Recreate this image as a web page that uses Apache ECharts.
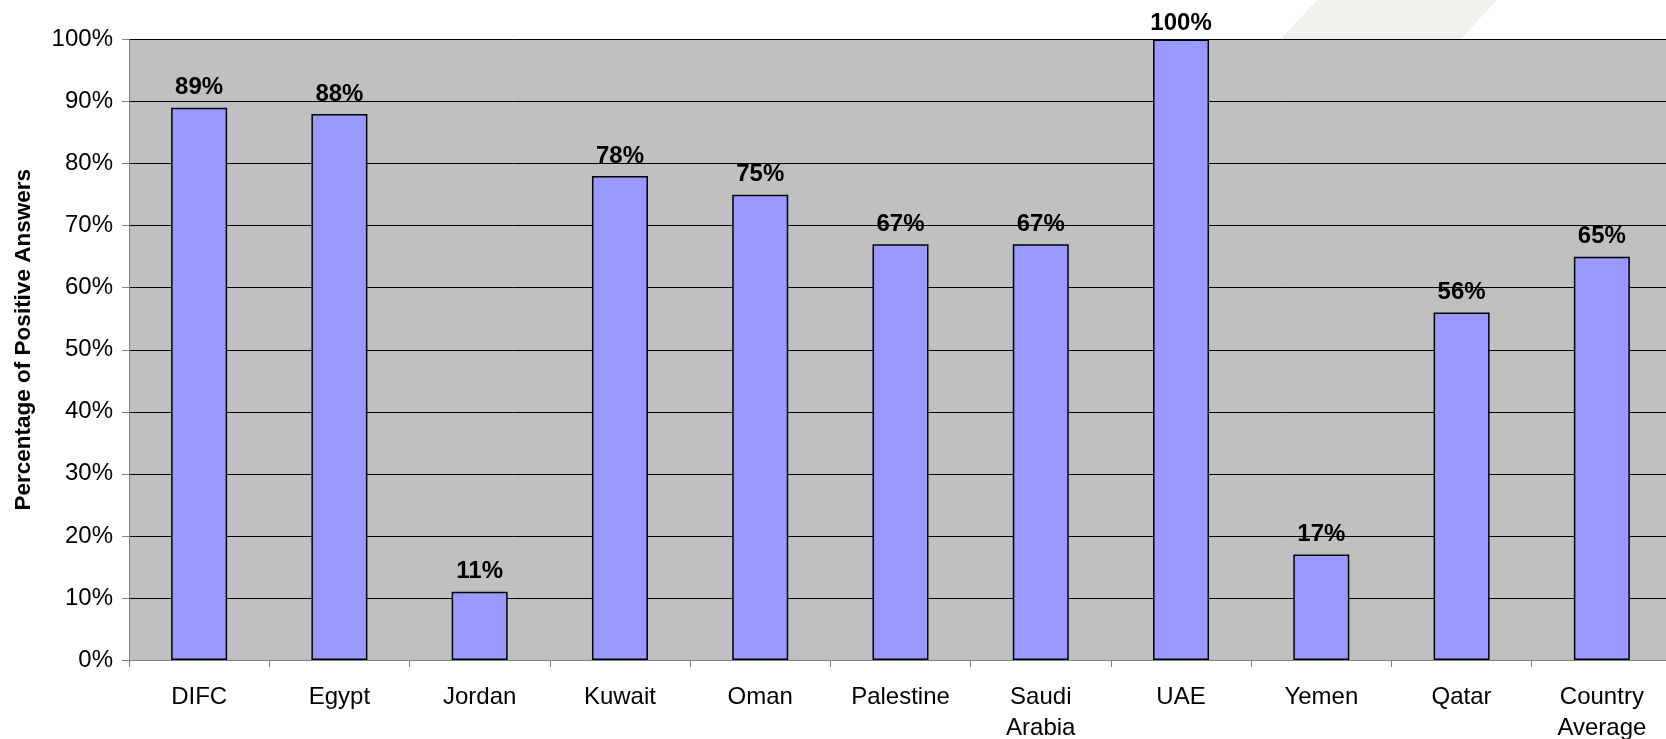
<!DOCTYPE html>
<html>
<head>
<meta charset="utf-8">
<script src="https://cdn.jsdelivr.net/npm/echarts@6/dist/echarts.min.js"></script>
<style>
  html, body { margin: 0; padding: 0; background: #ffffff; }
  #chart { width: 1666px; height: 739px; }
</style>
</head>
<body>
<div id="chart"></div>
<script>
// Share of positive answers per country
const categories = ['DIFC', 'Egypt', 'Jordan', 'Kuwait', 'Oman', 'Palestine', 'Saudi\nArabia', 'UAE', 'Yemen', 'Qatar', 'Country\nAverage'];
const positiveShare = [89, 88, 11, 78, 75, 67, 67, 100, 17, 56, 65];
const yTicks = [0, 10, 20, 30, 40, 50, 60, 70, 80, 90, 100];

const FONT = '"Liberation Sans", Arial, sans-serif';
const Y_MAX = 100;

// Bars that reach the top of the axis keep their label a little closer
const barData = positiveShare.map(v =>
  v >= Y_MAX ? { value: v, label: { distance: 4 } } : { value: v }
);

const chart = echarts.init(document.getElementById('chart'), null, { renderer: 'canvas' });

chart.setOption({
  backgroundColor: '#ffffff',
  animation: false,
  graphic: [
    {
      // faint decorative band in the top margin
      type: 'polygon',
      z: -10,
      silent: true,
      shape: { points: [[1317, 0], [1497, 0], [1460, 40], [1280, 40]] },
      style: { fill: '#f2f0eb' }
    }
  ],
  grid: {
    left: 129,
    top: 39.5,
    bottom: 79,
    right: -6,
    outerBoundsMode: 'none',
    containLabel: false,
    show: true,
    backgroundColor: '#c0c0c0',
    borderWidth: 0
  },
  xAxis: {
    type: 'category',
    data: categories,
    axisLine: { show: true, lineStyle: { color: '#808080', width: 1 } },
    axisTick: { show: true, alignWithLabel: false, length: 7, lineStyle: { color: '#808080' } },
    axisLabel: {
      color: '#000',
      fontFamily: FONT,
      fontSize: 24,
      lineHeight: 31,
      margin: 22,
      interval: 0
    },
    splitLine: { show: false }
  },
  yAxis: {
    type: 'value',
    min: 0,
    max: Y_MAX,
    interval: 10,
    name: 'Percentage of Positive Answers',
    nameLocation: 'middle',
    nameGap: 94,
    nameTextStyle: {
      color: '#000',
      fontFamily: FONT,
      fontSize: 22.5,
      fontWeight: 'bold',
      padding: [0, 0, 0, 20]
    },
    axisLine: { show: true, lineStyle: { color: '#808080', width: 1 } },
    axisTick: { show: true, length: 7, lineStyle: { color: '#808080' } },
    axisLabel: {
      color: '#000',
      fontFamily: FONT,
      fontSize: 24,
      margin: 16,
      formatter: v => (yTicks.includes(v) ? v + '%' : '')
    },
    splitLine: { show: true, lineStyle: { color: '#000', width: 1 } }
  },
  series: [
    {
      type: 'bar',
      data: barData,
      barWidth: 56,
      itemStyle: { color: '#9999ff', borderColor: '#000', borderWidth: 1.5 },
      label: {
        show: true,
        position: 'top',
        distance: 8,
        color: '#000',
        fontFamily: FONT,
        fontSize: 24,
        fontWeight: 'bold',
        formatter: p => p.value + '%'
      }
    }
  ]
});
</script>
</body>
</html>
